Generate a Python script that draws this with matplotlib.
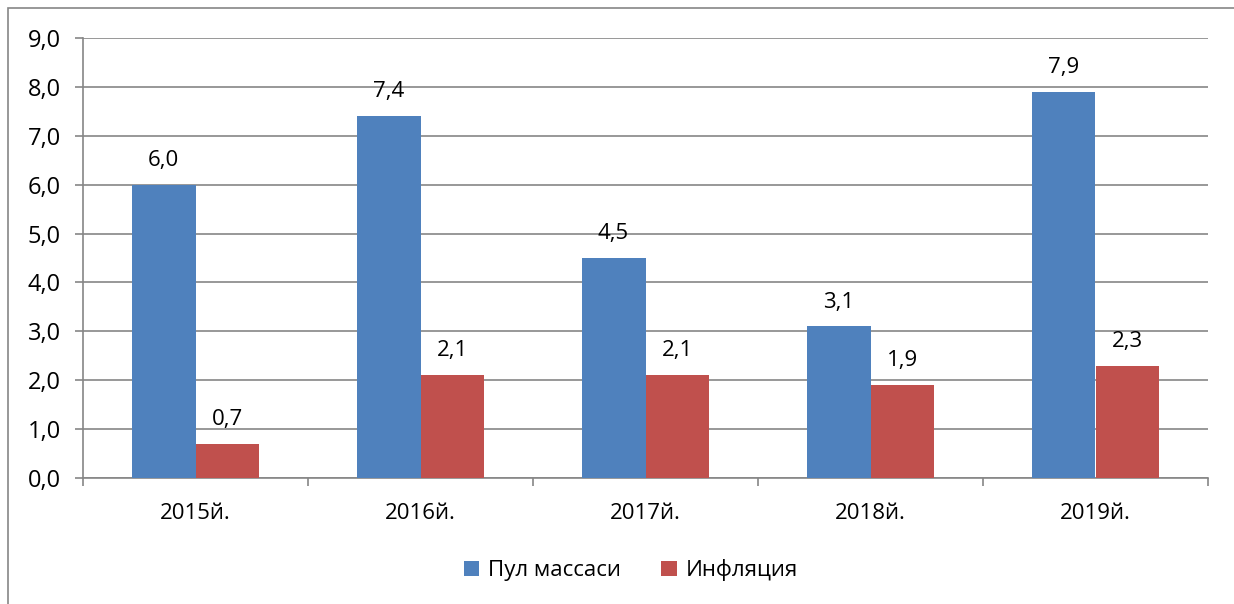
import numpy as np
import matplotlib
matplotlib.use("Agg")
from matplotlib import pyplot as plt
from matplotlib.patches import Rectangle

years = ["2015й.", "2016й.", "2017й.", "2018й.", "2019й."]
money_supply = [6.0, 7.4, 4.5, 3.1, 7.9]
inflation = [0.7, 2.1, 2.1, 1.9, 2.3]
series_names = ["Пул массаси", "Инфляция"]
y_ticks = [0.0, 1.0, 2.0, 3.0, 4.0, 5.0, 6.0, 7.0, 8.0, 9.0]

plt.rcParams["font.family"] = ["Open Sans", "DejaVu Sans"]
fs = 16

W, H = 1234, 604
fig = plt.figure(figsize=(W / 100, H / 100), dpi=100)
ax = fig.add_axes([83 / W, 1 - 478 / H, (1208 - 83) / W, (478 - 38) / H])

# chart border (Excel style frame, cut by the image edge)
fig.patches.append(Rectangle((8 / W, -0.05), 1.1, 1 - 8 / H + 0.05,
                             transform=fig.transFigure, fill=False,
                             edgecolor="#868686", linewidth=1.2))

grey = "#868686"
x = np.arange(len(years))
bw = 0.284
b1 = ax.bar(x - bw / 2, money_supply, bw, color="#4F81BD", label=series_names[0], zorder=3)
b2 = ax.bar(x + bw / 2, inflation, bw, color="#C0504D", label=series_names[1], zorder=3)

for bars, vals in ((b1, money_supply), (b2, inflation)):
    for rect, v in zip(bars, vals):
        ax.annotate(f"{v:.1f}".replace(".", ","),
                    (rect.get_x() + rect.get_width() / 2, rect.get_height()),
                    xytext=(0, 10), textcoords="offset points",
                    ha="center", va="bottom", fontsize=fs)

ax.set_xlim(-0.5, len(years) - 0.5)
ax.set_ylim(0, 9)
ax.set_yticks(y_ticks)
ax.set_yticklabels([f"{t:.1f}".replace(".", ",") for t in y_ticks], fontsize=17)
ax.yaxis.grid(True, color=grey, linewidth=1.2, zorder=0)

ax.set_xticks(x)
ax.set_xticklabels(years, fontsize=fs)
ax.set_xticks(np.arange(len(years) + 1) - 0.5, minor=True)
ax.tick_params(axis="x", which="major", length=0, pad=18)
ax.tick_params(axis="x", which="minor", length=6, color=grey, width=1.2)
ax.tick_params(axis="y", length=6, color=grey, width=1.2, pad=10)

for side in ("top", "right"):
    ax.spines[side].set_visible(False)
for side in ("left", "bottom"):
    ax.spines[side].set_color(grey)
    ax.spines[side].set_linewidth(1.2)

ax.legend(loc="center", bbox_to_anchor=(0.487, -0.21), ncol=2, frameon=False,
          fontsize=fs, handlelength=0.7, handleheight=0.7, handletextpad=0.4,
          columnspacing=1.8)

fig.savefig("out.png", dpi=100)
